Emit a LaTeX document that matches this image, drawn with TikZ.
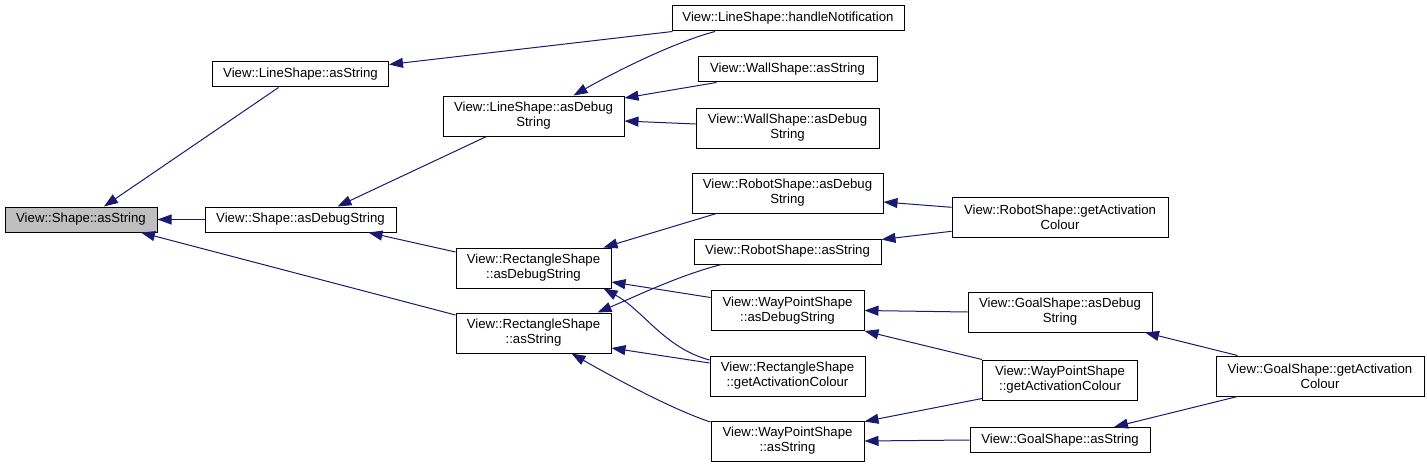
\documentclass[tikz,border=0pt]{standalone}
\usepackage{fontspec}
\setmainfont{Liberation Sans}
\usetikzlibrary{arrows.meta, positioning, calc}
\definecolor{edgeblue}{RGB}{25,25,112}
\definecolor{rootgray}{RGB}{191,191,191}

\begin{document}
\begin{tikzpicture}[
    x=0.75pt, y=-0.75pt,
    fn/.style={draw, line width=0.75pt, inner sep=2pt, align=center,
               font=\fontsize{9.9}{11.25}\selectfont},
    one/.style={fn, minimum height=18.75pt},
    two/.style={fn, minimum height=30pt},
    root/.style={fill=rootgray},
    call/.style={-{Triangle[length=10.5pt, width=7.5pt]}, edgeblue, line width=0.75pt}
]
    \useasboundingbox (0,0) rectangle (1427,467);

    \node[one, root, minimum width=114pt] (sas) at (81,219.5) {View::Shape::asString};
    \node[one, minimum width=132pt] (lsas) at (300.5,74.5) {View::LineShape::asString};
    \node[one, minimum width=143.25pt] (sads) at (300.5,219.5) {View::Shape::asDebugString};
    \node[two, minimum width=135.75pt] (lsads) at (533.5,116) {View::LineShape::asDebug\\String};
    \node[two, minimum width=116.25pt] (rcads) at (533.5,268) {View::RectangleShape\\::asDebugString};
    \node[two, minimum width=116.25pt] (rcas) at (533.5,333) {View::RectangleShape\\::asString};

    \node[one, minimum width=174pt] (lshn) at (788,18.5) {View::LineShape::handleNotification};
    \node[one, minimum width=134.25pt] (wsas) at (787.5,69.5) {View::WallShape::asString};
    \node[two, minimum width=137.25pt] (wsads) at (787.5,128) {View::WallShape::asDebug\\String};
    \node[two, minimum width=143.25pt] (rsads) at (787.5,193) {View::RobotShape::asDebug\\String};
    \node[one, minimum width=140.25pt] (rsas) at (787.5,251.5) {View::RobotShape::asString};
    \node[two, minimum width=114.75pt] (wpads) at (787.5,310.5) {View::WayPointShape\\::asDebugString};
    \node[two, minimum width=116.25pt] (rcgac) at (787.5,376) {View::RectangleShape\\::getActivationColour};
    \node[two, minimum width=114.75pt] (wpas) at (787.5,441) {View::WayPointShape\\::asString};

    \node[two, minimum width=162pt] (rsgac) at (1060,217.3) {View::RobotShape::getActivation\\Colour};
    \node[two, minimum width=138pt] (gsads) at (1060,312) {View::GoalShape::asDebug\\String};
    \node[two, minimum width=116.25pt] (wpgac) at (1060,380) {View::WayPointShape\\::getActivationColour};
    \node[one, minimum width=135pt] (gsas) at (1060,440) {View::GoalShape::asString};
    \node[two, minimum width=156pt] (gsgac) at (1320,376) {View::GoalShape::getActivation\\Colour};

    \draw[call] ($(lsas.south)+(-22,0)$) -- ($(sas.north)+(23,0)$);
    \draw[call] (sads.west) -- (sas.east);
    \draw[call] ($(rcas.west)+(0,-18)$) -- ($(sas.south)+(60,0)$);
    \draw[call] ($(lshn.south west)+(1,0)$) -- ($(lsas.east)+(0,-10)$);
    \draw[call] ($(lshn.south)+(-73,0)$) .. controls +(-45,12) and +(35,-20) .. ($(lsads.north)+(40,0)$);
    \draw[call] ($(wsas.south)+(-71,0)$) -- ($(lsads.east)+(0,-18)$);
    \draw[call] ($(wsads.west)+(0,-4)$) -- ($(lsads.east)+(0,5)$);
    \draw[call] ($(lsads.south)+(-47,0)$) -- ($(sads.north)+(37,0)$);
    \draw[call] ($(rcads.west)+(0,-16)$) -- ($(sads.south)+(68,0)$);
    \draw[call] ($(rsads.south)+(-71,0)$) -- ($(rcads.north)+(70,0)$);
    \draw[call] ($(rsas.south)+(-66,0)$) .. controls +(-40,10) and +(40,-17) .. ($(rcas.north)+(64,0)$);
    \draw[call] ($(wpads.west)+(0,-13)$) -- ($(rcads.east)+(0,14)$);
    \draw[call] ($(rcgac.west)+(0,-16)$) .. controls +(-45,-12) and +(40,22) .. ($(rcads.south)+(70,0)$);
    \draw[call] ($(rcgac.west)+(0,-13)$) -- ($(rcas.east)+(0,15)$);
    \draw[call] ($(wpas.west)+(0,-19)$) .. controls +(-40,-13) and +(35,20) .. ($(rcas.south)+(38,0)$);
    \draw[call] ($(rsgac.west)+(0,-10)$) -- ($(rsads.east)+(0,9)$);
    \draw[call] ($(rsgac.west)+(0,14)$) -- ($(rsas.east)+(0,-12)$);
    \draw[call] (gsads.west) -- (wpads.east);
    \draw[call] (wpgac.north west) -- (wpads.south east);
    \draw[call] ($(wpgac.south west)+(0,-2)$) -- ($(wpas.north east)+(0,1)$);
    \draw[call] (gsas.west) -- (wpas.east);
    \draw[call] ($(gsgac.north west)+(22,0)$) -- ($(gsads.south)+(85,0)$);
    \draw[call] ($(gsgac.south west)+(22,0)$) -- ($(gsas.north)+(54,0)$);
\end{tikzpicture}
\end{document}
